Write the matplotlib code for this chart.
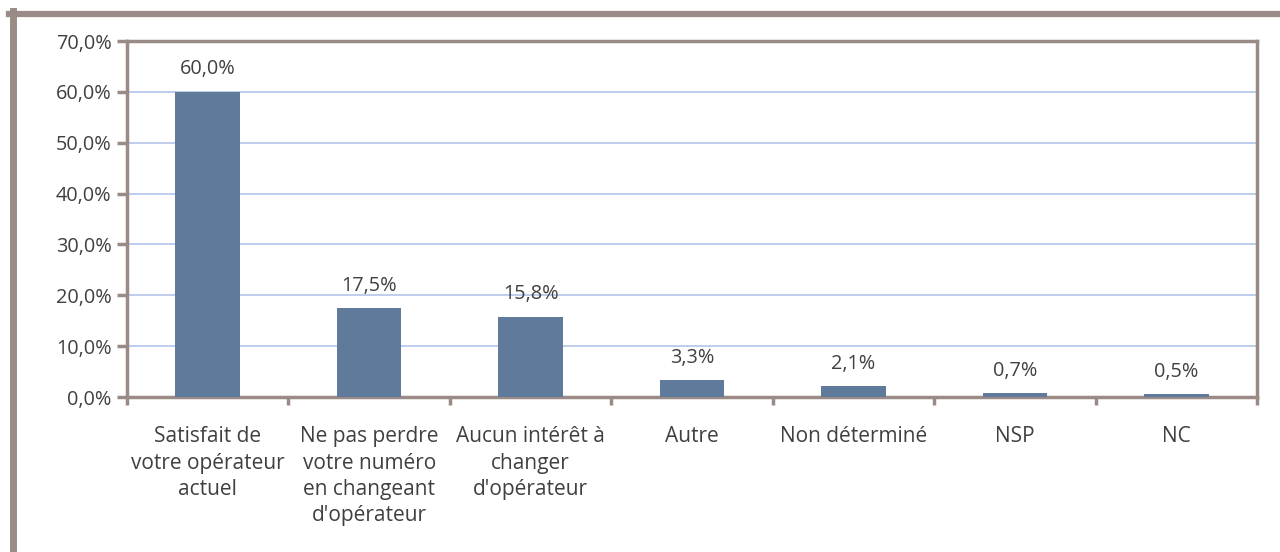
import numpy as np
import matplotlib.pyplot as plt
from matplotlib.lines import Line2D
from matplotlib.ticker import FuncFormatter, FixedLocator

categories = ['Satisfait de\nvotre opérateur\nactuel',
              'Ne pas perdre\nvotre numéro\nen changeant\nd\'opérateur',
              'Aucun intérêt à\nchanger\nd\'opérateur',
              'Autre', 'Non déterminé', 'NSP', 'NC']
values = [60.0, 17.5, 15.8, 3.3, 2.1, 0.7, 0.5]
y_ticks = [0, 10, 20, 30, 40, 50, 60, 70]

frame_col = '#9a8b86'
bar_col = '#5f7a9b'
text_col = '#404040'
grid_col = '#b3c6e8'
fs = 14.3

plt.rcParams['font.family'] = ['Open Sans', 'DejaVu Sans']

fig = plt.figure(figsize=(12.8, 5.52), dpi=100)
ax = fig.add_axes([127 / 1280, 1 - 397 / 552, (1257 - 127) / 1280, (397 - 41) / 552])

x = np.arange(len(categories))
bars = ax.bar(x, values, width=0.4, color=bar_col, zorder=3)

for xi, v in zip(x, values):
    ax.annotate(f'{v:.1f}%'.replace('.', ','), (xi, v), xytext=(0, 9),
                textcoords='offset points', ha='center', va='bottom',
                fontsize=fs, color=text_col)

ax.set_xlim(-0.5, len(categories) - 0.5)
ax.set_ylim(0, 70)
ax.set_yticks(y_ticks)
ax.yaxis.set_major_formatter(FuncFormatter(lambda v, p: f'{v:.1f}%'.replace('.', ',')))
ax.yaxis.grid(True, color=grid_col, linewidth=1.2, zorder=0)

ax.set_xticks(x)
ax.set_xticklabels(categories, fontsize=15, color=text_col, linespacing=1.34)
ax.xaxis.set_minor_locator(FixedLocator(np.arange(-0.5, len(categories), 1.0)))
ax.tick_params(axis='x', which='major', length=0, pad=21)
ax.tick_params(axis='x', which='minor', length=6, width=2.5, color=frame_col)
ax.tick_params(axis='y', length=7, width=2.5, color=frame_col, labelsize=fs,
               labelcolor=text_col, pad=4)

for s in ax.spines.values():
    s.set_color(frame_col)
    s.set_linewidth(2.5)

# outer frame (top and left edges only visible)
fig.add_artist(Line2D([9 / 1280, 1], [1 - 14 / 552, 1 - 14 / 552],
                      transform=fig.transFigure, color=frame_col, linewidth=4.5))
fig.add_artist(Line2D([12.5 / 1280, 12.5 / 1280], [0, 1 - 11 / 552],
                      transform=fig.transFigure, color=frame_col, linewidth=5))

fig.savefig('out.png', dpi=100)
